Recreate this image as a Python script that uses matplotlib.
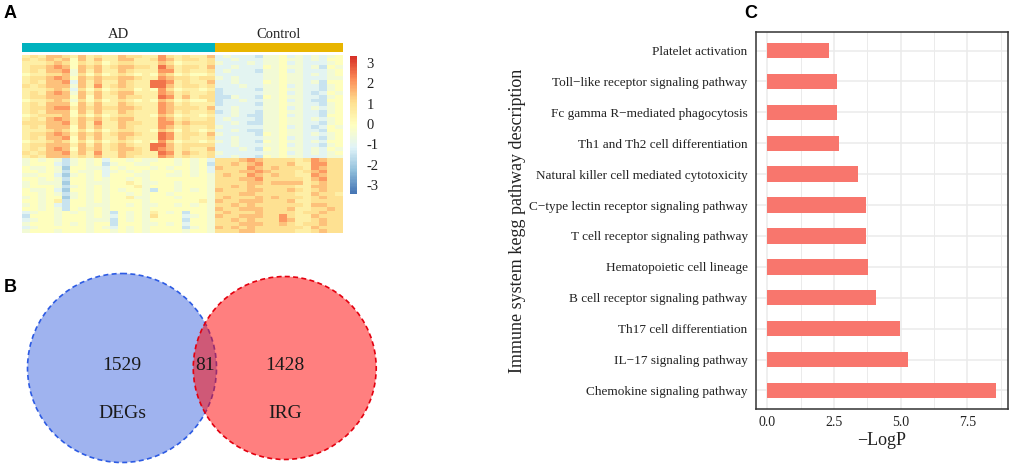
import numpy as np
import matplotlib
matplotlib.use('Agg')
import matplotlib.pyplot as plt
from matplotlib.colors import LinearSegmentedColormap, ListedColormap, to_rgba
from matplotlib.patches import Circle

plt.rcParams['font.family'] = ['Liberation Serif', 'DejaVu Serif']
plt.rcParams['axes.unicode_minus'] = False

# ---- panel A: heatmap (z-scores, one char per cell: '0'=-2 ... '9'=2.5, step 0.5)
ad_top = [
    "565776575655766558656557",
    "656767475755775568756656",
    "555676465645665557645556",
    "566787476756776659756657",
    "565778375755765558856556",
    "455667364645654547645445",
    "566787476766776558766566",
    "565778275755765599856557",
    "656777375856765599756656",
    "555676264645664548645545",
    "565787375756775558756556",
    "566777474755766559857566",
    "455676364645654547645446",
    "565777475755765558756555",
    "566788576766776558766657",
    "565777475755765558756556",
    "456667464645665547645545",
    "565787576756775558756556",
    "666778575855766558867666",
    "565777475755765558756556",
    "555676464645665547646545",
    "566787576756776559856657",
    "565778475755765559856556",
    "455676464645654548645545",
    "566777575756765599756666",
    "565787476756776598756557",
    "656778575855766559857656",
    "565777565755765558756556",
]
ad_bottom = [
    "343431343424434334434342",
    "344421343413443344434341",
    "433430443324344434344342",
    "443431433423434344434342",
    "334420343424443344334343",
    "443431443434434344444443",
    "343330443334454334434443",
    "344431343434445344434443",
    "433420443434344314434343",
    "443431343434434344344443",
    "343440343434453344434443",
    "443451443434444344444453",
    "343421443334434334434343",
    "443431433434444344444443",
    "234434343431434354341443",
    "144434443432434364442343",
    "234434443331434344441443",
    "344434343441444334342443",
    "234444443432434344441343",
    "344434443443434344443443",
]
ctrl_top = [
    "2322213342323234",
    "2232223343323244",
    "3222323342322234",
    "2232224343323143",
    "2322213342322234",
    "2222223343323234",
    "3232223343322233",
    "2232224343323144",
    "2223223342322134",
    "1222213343322134",
    "1222223342321243",
    "1132214343322134",
    "1223223342321144",
    "1222213343322134",
    "2232223342323234",
    "1232213343322134",
    "2232113342322144",
    "2322213343323234",
    "2232113343322134",
    "3222223342321243",
    "2232113343322144",
    "3222214343323234",
    "2232223342322134",
    "3232214343323244",
    "2232223342322134",
    "2223214343323243",
    "3222223342323234",
    "2232214343322233",
]
ctrl_bottom = [
    "6667876666568766",
    "6676786667558866",
    "7666876766658766",
    "6667787666567866",
    "6766876766558766",
    "6667786666657866",
    "6666776777756766",
    "6676766666557766",
    "7666776667656766",
    "6667766666557665",
    "6766676766656766",
    "7667776667556666",
    "6676766666657766",
    "7667776667556676",
    "6766676666566766",
    "7667776686557666",
    "6676766687556766",
    "6667776676566766",
    "7676766666657666",
    "6667766666556766",
]
group_names = ['AD', 'Control']
group_colors = ['#00B2BE', '#E8B500']
heat_colors = ['#4575B4', '#91BFDB', '#E0F3F8', '#FFFFBF', '#FEE090', '#FC8D59', '#D73027']
cbar_ticks = [3, 2, 1, 0, -1, -2, -3]

# ---- panel B: venn counts
set_names = ['DEGs', 'IRG']
only_counts = [1529, 1428]
shared_count = 81

# ---- panel C: KEGG pathways (top to bottom)
pathways = [
    'Platelet activation',
    'Toll\u2212like receptor signaling pathway',
    'Fc gamma R\u2212mediated phagocytosis',
    'Th1 and Th2 cell differentiation',
    'Natural killer cell mediated cytotoxicity',
    'C\u2212type lectin receptor signaling pathway',
    'T cell receptor signaling pathway',
    'Hematopoietic cell lineage',
    'B cell receptor signaling pathway',
    'Th17 cell differentiation',
    'IL\u221217 signaling pathway',
    'Chemokine signaling pathway',
]
neg_logp = [2.30, 2.60, 2.60, 2.70, 3.40, 3.69, 3.69, 3.79, 4.09, 4.99, 5.29, 8.58]


def decode(rows):
    return np.array([[(int(c) - 4) * 0.5 for c in r] for r in rows])


W, H = 1010, 465
fig = plt.figure(figsize=(W / 100, H / 100), dpi=100)

# heatmap
heat = np.vstack([np.hstack([decode(ad_top), decode(ctrl_top)]),
                  np.hstack([decode(ad_bottom), decode(ctrl_bottom)])])
cmap = LinearSegmentedColormap.from_list('rdylbu', heat_colors, N=100)
ax_h = fig.add_axes([22 / W, 1 - 233 / H, 321 / W, 178 / H])
im = ax_h.imshow(heat, cmap=cmap, vmin=-3.44, vmax=3.34, aspect='auto',
                 interpolation='nearest')
ax_h.axis('off')

n_ad = len(ad_top[0])
n_ctrl = len(ctrl_top[0])
groups = ['AD'] * n_ad + ['Control'] * n_ctrl
codes = np.array([[group_names.index(g) for g in groups]])
ax_a = fig.add_axes([22 / W, 1 - 52 / H, 321 / W, 9 / H])
ax_a.imshow(codes, cmap=ListedColormap(group_colors), vmin=0, vmax=1,
            aspect='auto', interpolation='nearest')
ax_a.axis('off')
for k, name in enumerate(group_names):
    idx = [i for i, g in enumerate(groups) if g == name]
    ax_a.text(np.mean(idx), -1.05, name, ha='center', va='baseline',
              fontsize=10.5, color='#222222')

cax = fig.add_axes([350 / W, 1 - 194 / H, 7 / W, 138 / H])
cb = fig.colorbar(im, cax=cax, ticks=cbar_ticks)
cb.outline.set_visible(False)
cax.tick_params(length=0, pad=7, labelsize=10.5, labelcolor='#222222')

fig.text(4 / W, 1 - 18 / H, 'A', family='Liberation Sans', weight='bold', fontsize=13)

# venn
ax_v = fig.add_axes([0, 0, 420 / W, 225 / H])
ax_v.set_xlim(0, 420)
ax_v.set_ylim(465, 240)
ax_v.axis('off')

k_scale = 2.355  # pixels per sqrt(count)
tot1 = only_counts[0] + shared_count
tot2 = only_counts[1] + shared_count
r1 = k_scale * np.sqrt(tot1)
r2 = k_scale * np.sqrt(tot2)
target = np.pi * k_scale ** 2 * shared_count


def lens_area(d, a, b):
    t1 = a * a * np.arccos((d * d + a * a - b * b) / (2 * d * a))
    t2 = b * b * np.arccos((d * d + b * b - a * a) / (2 * d * b))
    t3 = 0.5 * np.sqrt((-d + a + b) * (d + a - b) * (d - a + b) * (d + a + b))
    return t1 + t2 - t3


lo, hi = abs(r1 - r2) + 1e-6, r1 + r2 - 1e-6
for _ in range(60):
    mid = (lo + hi) / 2
    if lens_area(mid, r1, r2) > target:
        lo = mid
    else:
        hi = mid
dist = (lo + hi) / 2

c1 = (122, 368)
c2 = (c1[0] + dist, 368)
ax_v.add_patch(Circle(c1, r1, facecolor=to_rgba('royalblue', 0.5),
                      edgecolor='#2d5be3', lw=1.2, ls=(0, (3, 2))))
ax_v.add_patch(Circle(c2, r2, facecolor=to_rgba('red', 0.5),
                      edgecolor='#e3000f', lw=1.2, ls=(0, (3, 2))))
lens_mid = ((c1[0] + r1) + (c2[0] - r2)) / 2
ax_v.text(c1[0], 366, str(only_counts[0]), ha='center', va='center', fontsize=14, color='#1a1a1a')
ax_v.text(c2[0], 366, str(only_counts[1]), ha='center', va='center', fontsize=14, color='#1a1a1a')
ax_v.text(lens_mid, 366, str(shared_count), ha='center', va='center', fontsize=14, color='#1a1a1a')
ax_v.text(c1[0], 413, set_names[0], ha='center', va='center', fontsize=14, color='#1a1a1a')
ax_v.text(c2[0], 413, set_names[1], ha='center', va='center', fontsize=14, color='#1a1a1a')

fig.text(4 / W, 1 - 292 / H, 'B', family='Liberation Sans', weight='bold', fontsize=13)

# bar chart
ax_b = fig.add_axes([756 / W, 1 - 409 / H, 252 / W, 377 / H])
n = len(pathways)
ypos = np.arange(n)[::-1]
ax_b.barh(ypos, neg_logp, height=0.5, color='#F8766D', zorder=3)
ax_b.set_xlim(-0.43, 9.03)
ax_b.set_ylim(-0.6, n - 0.4)
ax_b.set_yticks(ypos)
ax_b.set_yticklabels(pathways)
ax_b.set_xticks([0, 2.5, 5.0, 7.5])
ax_b.set_xticklabels(['0.0', '2.5', '5.0', '7.5'])
ax_b.set_xticks([1.25, 3.75, 6.25, 8.75], minor=True)
ax_b.grid(which='major', color='#EBEBEB', lw=1.1, zorder=0)
ax_b.grid(which='minor', axis='x', color='#EBEBEB', lw=0.7, zorder=0)
ax_b.set_axisbelow(True)
ax_b.tick_params(which='both', length=0, labelcolor='#222222')
ax_b.tick_params(axis='y', pad=6, labelsize=9.5)
ax_b.tick_params(axis='x', pad=5, labelsize=10)
for s in ax_b.spines.values():
    s.set_color('#333333')
    s.set_linewidth(1.1)
ax_b.set_xlabel('\u2212LogP', fontsize=13, color='#222222', labelpad=2)
ax_b.set_ylabel('Immune system kegg pathway description', fontsize=13, color='#222222')
ax_b.yaxis.set_label_coords(-0.912, 0.5)

fig.text(744 / W, 1 - 18 / H, 'C', family='Liberation Sans', weight='bold', fontsize=13)

fig.savefig('out.png', dpi=100)
